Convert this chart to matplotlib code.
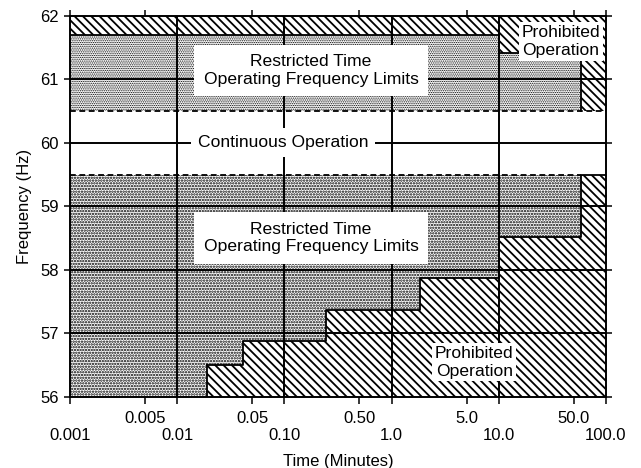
import matplotlib
matplotlib.use("Agg")
from matplotlib import pyplot as plt

plt.rcParams['font.family'] = ['Liberation Sans', 'DejaVu Sans']
plt.rcParams['font.size'] = 12
plt.rcParams['hatch.color'] = 'black'

# step boundaries (time in minutes, frequency in Hz)
upper_t = [0.001, 10.0, 58.0, 100.0]
upper_f = [61.7, 61.42, 60.5, 60.5]
lower_t = [0.001, 0.019, 0.0414, 0.243, 1.85, 10.0, 58.0, 100.0]
lower_f = [56.0, 56.5, 56.88, 57.37, 57.88, 58.52, 59.5, 59.5]
cont_lo, cont_hi = 59.5, 60.5
f_min, f_max = 56, 62
t_min, t_max = 0.001, 100.0

major_t = [0.001, 0.01, 0.1, 1.0, 10.0, 100.0]
major_lbl = ['0.001', '0.01', '0.10', '1.0', '10.0', '100.0']
minor_t = [0.005, 0.05, 0.5, 5.0, 50.0]
minor_lbl = ['0.005', '0.05', '0.50', '5.0', '50.0']
freq_ticks = [56, 57, 58, 59, 60, 61, 62]
grid_t = [0.01, 0.1, 1.0, 10.0]
grid_f = [57, 58, 59, 60, 61]


def fill(ax, x, y1, y2, hatch, hlw):
    plt.rcParams['hatch.linewidth'] = hlw
    pc = ax.fill_between(x, y1, y2, step='post', facecolor='white',
                         edgecolor='none', hatch=hatch, linewidth=0, zorder=1)
    if hasattr(pc, 'set_hatch_linewidth'):
        pc.set_hatch_linewidth(hlw)
    return pc


def main():
    fig = plt.figure(figsize=(6.41, 4.68), dpi=100)
    ax = fig.add_axes([70 / 641, 1 - 397 / 468, 536 / 641, 381 / 468])
    ax.set_xscale('log')
    ax.set_xlim(t_min, t_max)
    ax.set_ylim(f_min, f_max)

    # prohibited (hatched) and restricted (stippled) areas
    fill(ax, upper_t, upper_f, [f_max] * len(upper_t), '\\\\\\\\', 1.3)
    fill(ax, upper_t, [cont_hi] * len(upper_t), upper_f, '.........', 0.6)
    fill(ax, lower_t, lower_f, [cont_lo] * len(lower_t), '......', 1.15)
    fill(ax, lower_t, [f_min] * len(lower_t), lower_f, '\\\\\\\\', 1.3)

    # outlines
    ax.step(upper_t[:3], upper_f[:3], where='post', color='black', lw=1.3, zorder=3)
    ax.step(lower_t[1:], lower_f[1:], where='post', color='black', lw=1.3, zorder=3)
    ax.plot([lower_t[1], lower_t[1]], [f_min, lower_f[1]], color='black', lw=1.3, zorder=3)
    ax.hlines(cont_hi, t_min, t_max, colors='black', lw=1.3,
              linestyles=(0, (3.2, 2.0)), zorder=3)
    ax.hlines(cont_lo, t_min, lower_t[-2], colors='black', lw=1.3,
              linestyles=(0, (3.2, 2.0)), zorder=3)

    for t in grid_t:
        ax.axvline(t, color='black', lw=1.4, zorder=2)
    for f in grid_f:
        ax.axhline(f, color='black', lw=1.4, zorder=2)

    fs = 12.6
    box = dict(boxstyle='square,pad=0.55', fc='white', ec='none')
    ax.text(0.177, 61.14, 'Restricted Time\nOperating Frequency Limits', fontsize=fs,
            ha='center', va='center', bbox=box, zorder=5, linespacing=1.2)
    ax.text(0.177, 58.5, 'Restricted Time\nOperating Frequency Limits', fontsize=fs,
            ha='center', va='center', bbox=box, zorder=5, linespacing=1.2)
    ax.text(0.097, 60.0, 'Continuous Operation', ha='center', va='center', fontsize=fs,
            bbox=dict(boxstyle='square,pad=0.4', fc='white', ec='none'), zorder=5)
    small = dict(boxstyle='square,pad=0.15', fc='white', ec='none')
    ax.text(38, 61.6, 'Prohibited\nOperation', ha='center', va='center', fontsize=fs,
            bbox=small, zorder=5, linespacing=1.25)
    ax.text(5.9, 56.55, 'Prohibited\nOperation', ha='center', va='center', fontsize=fs,
            bbox=small, zorder=5, linespacing=1.25)

    ax.set_xticks(major_t, major_lbl)
    ax.set_xticks(minor_t, minor_lbl, minor=True)
    ax.set_yticks(freq_ticks)
    ax.tick_params(axis='x', which='both', direction='out', length=5, width=1.1)
    ax.tick_params(axis='x', which='major', pad=17)
    ax.tick_params(axis='x', which='minor', pad=5)
    ax.tick_params(axis='y', direction='out', length=4, width=1.1,
                   right=True, pad=4)

    top = ax.twiny()
    top.set_xscale('log')
    top.set_xlim(t_min, t_max)
    top.set_xticks([t_min] + minor_t + [t_max], [])
    top.minorticks_off()
    top.tick_params(direction='out', length=4, width=1.1)

    for a in (ax, top):
        for s in a.spines.values():
            s.set_linewidth(1.2)

    ax.set_xlabel('Time (Minutes)', labelpad=8)
    ax.set_ylabel('Frequency (Hz)', labelpad=6)

    fig.savefig('out.png', dpi=100)


if __name__ == '__main__':
    main()
